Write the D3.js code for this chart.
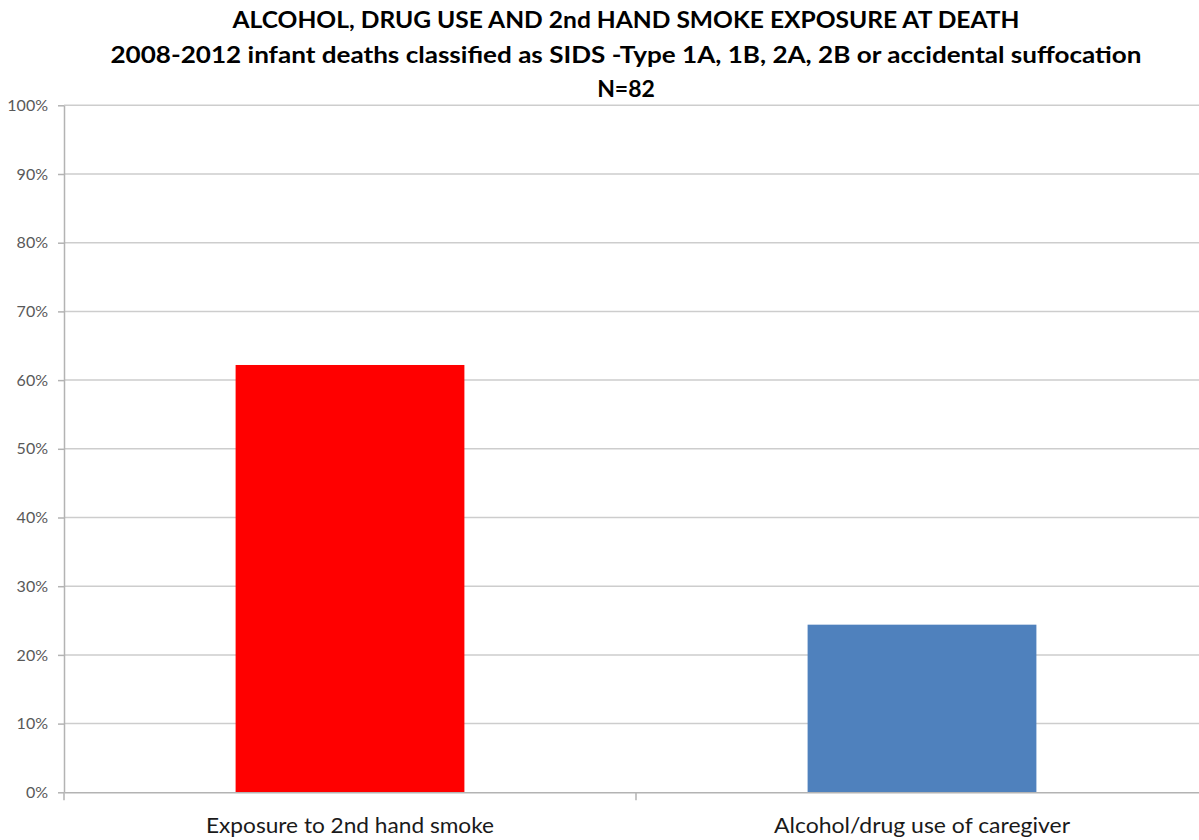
<!DOCTYPE html>
<html>
<head>
<meta charset="utf-8">
<script src="https://cdn.jsdelivr.net/npm/d3@7"></script>
<style>
  html, body { margin: 0; padding: 0; background: #fff; }
  svg { display: block; }
  text { font-family: Lato, "Open Sans", sans-serif; }
</style>
</head>
<body>
<svg id="chart" width="1199" height="840"></svg>
<script>
// Chart data
const titleLines = [
  "ALCOHOL, DRUG USE AND 2nd HAND SMOKE EXPOSURE AT DEATH",
  "2008-2012 infant deaths classified as SIDS -Type 1A, 1B, 2A, 2B or accidental suffocation",
  "N=82"
];
const categories = ["Exposure to 2nd hand smoke", "Alcohol/drug use of caregiver"];
const percentValues = [62.2, 24.4];
const barColors = ["#ff0000", "#4f81bd"];
const yTickValues = [0, 10, 20, 30, 40, 50, 60, 70, 80, 90, 100];
const yTickLabels = ["0%", "10%", "20%", "30%", "40%", "50%", "60%", "70%", "80%", "90%", "100%"];

const svg = d3.select("#chart");

// Plot frame
const plotLeft = 64, plotRight = 1208, plotTop = 105.3, plotBottom = 792.3;

const x = d3.scaleBand()
  .domain(categories)
  .range([plotLeft, plotRight])
  .paddingInner(0.6)
  .paddingOuter(0.3);

const y = d3.scaleLinear()
  .domain([0, 100])
  .range([plotBottom, plotTop]);

// Title
const titleWidths = [787, 1031, null];
const titleBaselines = [28, 63, 97];
const title = svg.append("g").attr("class", "title");
titleLines.forEach((line, i) => {
  const t = title.append("text")
    .attr("x", 626)
    .attr("y", titleBaselines[i])
    .attr("text-anchor", "middle")
    .attr("font-size", 23)
    .attr("font-weight", "bold")
    .attr("fill", "#000")
    .text(line);
  if (titleWidths[i]) t.attr("textLength", titleWidths[i]).attr("lengthAdjust", "spacingAndGlyphs");
});

// Horizontal gridlines
svg.append("g").attr("class", "grid")
  .selectAll("line")
  .data(yTickValues.filter(d => d > 0))
  .join("line")
  .attr("x1", plotLeft)
  .attr("x2", plotRight)
  .attr("y1", d => y(d))
  .attr("y2", d => y(d))
  .attr("stroke", "#cdcdcd")
  .attr("stroke-width", 1.5);

// Bars
svg.append("g").attr("class", "bars")
  .selectAll("rect")
  .data(categories.map((c, i) => ({ c, v: percentValues[i], color: barColors[i] })))
  .join("rect")
  .attr("x", d => x(d.c))
  .attr("width", x.bandwidth())
  .attr("y", d => y(d.v))
  .attr("height", d => y(0) - y(d.v))
  .attr("fill", d => d.color);

// Y axis
const yAxis = svg.append("g")
  .attr("transform", `translate(${plotLeft},0)`)
  .call(d3.axisLeft(y)
    .tickValues(yTickValues)
    .tickFormat((d, i) => yTickLabels[i])
    .tickSize(6)
    .tickSizeOuter(0)
    .tickPadding(10));
yAxis.select(".domain").attr("stroke", "#b3b3b3").attr("stroke-width", 1.5);
yAxis.selectAll(".tick line").attr("stroke", "#b3b3b3").attr("stroke-width", 1.5);
yAxis.selectAll(".tick text")
  .attr("font-size", 16)
  .attr("fill", "#595959")
  .style("font-family", "Lato, 'Open Sans', sans-serif");

// X axis: labels at band centres, tick marks at band boundaries
const xAxis = svg.append("g")
  .attr("transform", `translate(0,${plotBottom})`)
  .call(d3.axisBottom(x).tickSize(0).tickSizeOuter(0).tickPadding(0));
xAxis.select(".domain").attr("stroke", "#b3b3b3").attr("stroke-width", 1.5);
const labelWidths = [288, 296];
xAxis.selectAll(".tick text")
  .attr("y", 40.5)
  .attr("dy", 0)
  .attr("font-size", 21)
  .attr("fill", "#1a1a1a")
  .style("font-family", "Lato, 'Open Sans', sans-serif")
  .attr("textLength", (d, i) => labelWidths[i])
  .attr("lengthAdjust", "spacingAndGlyphs");

const bandEdges = [plotLeft, plotLeft + x.step(), plotRight];
xAxis.selectAll(".boundary")
  .data(bandEdges)
  .join("line")
  .attr("class", "boundary")
  .attr("x1", d => d)
  .attr("x2", d => d)
  .attr("y1", 0)
  .attr("y2", 8)
  .attr("stroke", "#b3b3b3")
  .attr("stroke-width", 1.5);
</script>
</body>
</html>
